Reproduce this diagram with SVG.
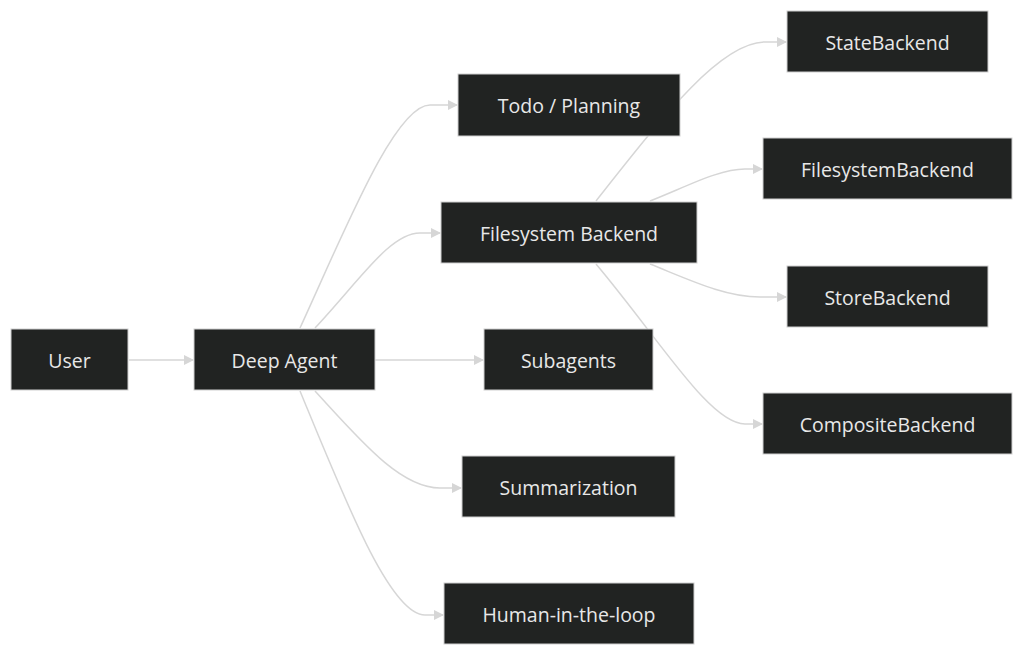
<svg xmlns="http://www.w3.org/2000/svg" width="1024" height="656" viewBox="0 0 1024 656">
<style>
.node rect{fill:#212322;stroke:#cfcfcf;stroke-width:1}
.node text{fill:#e8e8e8;font-family:"Open Sans","Noto Sans",sans-serif;font-size:19.5px;text-anchor:middle;dominant-baseline:central}
.edge{fill:none;stroke:#d6d6d6;stroke-width:1.5;marker-end:url(#arr)}
</style>
<defs>
<marker id="arr" viewBox="0 0 10 10" refX="9" refY="5" markerWidth="10" markerHeight="10" markerUnits="userSpaceOnUse" orient="auto">
<path d="M0,0 L10,5 L0,10 z" fill="#d6d6d6"/>
</marker>
</defs>
<rect width="1024" height="656" fill="#ffffff"/>
<g id="connectors">
<path class="edge" d="M129,360 L193,360"/>
<path class="edge" d="M375,360 L483,360"/>
<path class="edge" d="M300,328 C345,230 395,105 430,105 L457,105"/>
<path class="edge" d="M315,328 C360,280 390,233 420,233 L440,233"/>
<path class="edge" d="M315,391 C360,440 400,488 440,488 L461,488"/>
<path class="edge" d="M300,391 C345,500 390,615 425,615 L443,615"/>
<path class="edge" d="M596,201 C660,120 720,42 765,42 L786,42"/>
<path class="edge" d="M650,201 C690,185 720,169 745,169 L762,169"/>
<path class="edge" d="M650,264 C690,280 725,297 760,297 L786,297"/>
<path class="edge" d="M596,264 C660,340 710,424 745,424 L762,424"/>
</g>
<g id="user" class="node"><rect x="11" y="329" width="117" height="61"/><text x="69.5" y="360">User</text></g>
<g id="deep-agent" class="node"><rect x="194" y="329" width="181" height="61"/><text x="284.5" y="360">Deep Agent</text></g>
<g id="todo" class="node"><rect x="458" y="74" width="222" height="62"/><text x="569" y="105">Todo / Planning</text></g>
<g id="filesystem" class="node"><rect x="441" y="202" width="256" height="61"/><text x="569" y="233">Filesystem Backend</text></g>
<g id="subagents" class="node"><rect x="484" y="329" width="169" height="61"/><text x="568.5" y="360">Subagents</text></g>
<g id="summarization" class="node"><rect x="462" y="456" width="213" height="61"/><text x="568.5" y="487">Summarization</text></g>
<g id="hitl" class="node"><rect x="444" y="583" width="250" height="61"/><text x="569" y="614">Human-in-the-loop</text></g>
<g id="state-backend" class="node"><rect x="787" y="11" width="201" height="61"/><text x="887.5" y="42">StateBackend</text></g>
<g id="filesystem-backend" class="node"><rect x="763" y="138" width="249" height="61"/><text x="887.5" y="169">FilesystemBackend</text></g>
<g id="store-backend" class="node"><rect x="787" y="266" width="201" height="61"/><text x="887.5" y="297">StoreBackend</text></g>
<g id="composite-backend" class="node"><rect x="763" y="393" width="249" height="61"/><text x="887.5" y="424">CompositeBackend</text></g>
</svg>
